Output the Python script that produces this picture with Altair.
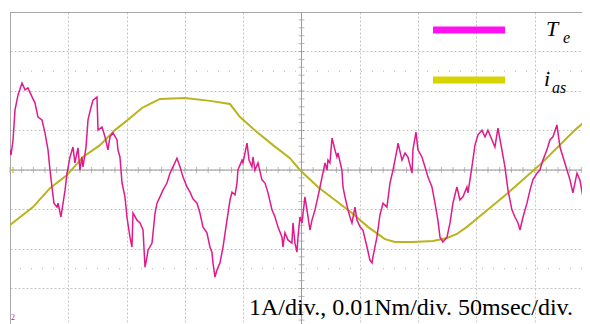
import altair as alt
import numpy as np
import pandas as pd

# ---- data (time in ms, amplitude in divisions) ----
te_t = [0, 0.9, 2.6, 4.3, 6.9, 10.3, 12.9, 15.4, 18.9, 21.4, 24.0, 27.4, 30.0, 32.6, 34.3, 36.0, 37.7, 40.3, 41.2, 43.7,
        45.5, 47.2, 48.9, 51.5, 54.0, 55.7, 58.3, 60.0, 61.7, 62.6, 65.2, 66.9, 69.5, 71.2, 74.6, 75.5, 78.9, 81.5, 84.0, 85.8,
        88.3, 91.8, 92.6, 94.3, 96.1, 98.6, 100.3, 102.9, 104.6, 105.5, 108.9, 111.5, 114.1, 115.8, 117.5, 118.4, 121.8, 124.4, 126.1, 128.6,
        131.2, 134.6, 137.2, 139.8, 143.2, 145.8, 148.4, 151.8, 154.4, 156.9, 160.4, 162.9, 165.5, 168.9, 171.5, 173.2, 174.1, 175.8, 177.5, 180.1,
        182.7, 186.1, 188.7, 190.4, 193.0, 194.7, 195.5, 199.0, 199.8, 203.3, 205.0, 207.5, 208.4, 210.1, 212.7, 216.1, 218.7, 221.3, 224.7, 227.3,
        229.8, 233.3, 234.1, 235.8, 238.4, 241.8, 242.7, 244.4, 246.1, 247.0, 248.7, 250.4, 253.0, 254.7, 257.3, 259.0, 261.6, 264.1, 265.9, 267.6,
        270.2, 271.9, 272.7, 274.4, 276.2, 278.7, 280.4, 281.3, 284.7, 285.6, 287.3, 289.9, 291.6, 293.3, 295.9, 297.6, 300.2, 302.7, 306.2, 308.7,
        310.5, 311.3, 314.7, 317.3, 319.9, 323.3, 325.9, 328.5, 331.9, 332.8, 336.2, 338.8, 341.3, 344.8, 345.6, 348.2, 349.9, 353.3, 355.9, 358.5,
        361.9, 364.5, 367.0, 368.8, 371.3, 374.8, 377.4, 379.9, 383.3, 385.9, 388.5, 391.9, 392.8, 396.2, 398.8, 401.4, 404.8, 407.4, 409.9, 413.4,
        415.9, 418.5, 421.9, 424.5, 427.1, 430.5, 433.1, 435.7, 437.4, 440.0, 443.4, 446.0, 448.5, 452.0, 454.5, 457.1, 460.5, 463.1, 465.7, 469.1,
        471.7, 474.3, 477.7, 480.3, 482.8, 486.3, 488.8, 491.4, 494.8, 495.7, 497.4]
te_v = [0.51, 0.38, 0.76, 1.52, 1.90, 2.20, 2.03, 2.08, 1.85, 1.70, 1.34, 1.27, 0.94, 0.51, 0.0, -0.43, -0.84, -0.94, -0.84, -1.19,
        -0.84, -0.51, -0.08, 0.33, 0.58, 0.18, 0.56, 0.0, 0.33, 0.08, 0.58, 1.27, 1.59, 1.77, 1.85, 1.01, 1.09, 0.84, 0.51, 0.84,
        0.94, 0.76, 0.51, 0.33, -0.33, -0.68, -1.19, -1.70, -1.95, -1.09, -1.27, -1.34, -1.52, -2.46, -2.20, -2.03, -1.85, -1.09, -0.84, -0.68,
        -0.51, -0.33, -0.08, 0.08, 0.30, 0.08, -0.18, -0.43, -0.56, -0.73, -0.84, -1.09, -1.44, -1.59, -1.95, -2.08, -2.35, -2.71, -2.53, -2.35,
        -1.95, -1.27, -0.76, -0.56, -0.63, -0.33, 0.0, 0.25, 0.18, 0.68, 0.25, 0.08, 0.33, 0.0, 0.18, -0.25, -0.33, -0.58, -1.01, -1.19,
        -1.44, -1.70, -1.95, -1.59, -1.77, -1.85, -1.34, -1.85, -2.08, -1.70, -1.19, -1.34, -0.68, -1.01, -1.52, -1.27, -1.01, -0.68, -0.43, -0.18,
        0.18, 0.0, 0.25, 0.18, 0.81, 0.51, 0.33, 0.43, 0.0, -0.43, -0.68, -1.01, -1.19, -1.34, -0.94, -1.27, -1.44, -1.52, -1.95, -2.28,
        -2.35, -2.20, -1.70, -1.14, -0.84, -0.94, -0.33, 0.0, 0.51, 0.68, 0.25, 0.43, 0.33, -0.08, 0.51, 0.96, 0.51, 0.33, 0.08, -0.18,
        -0.43, -0.84, -1.27, -1.70, -1.82, -1.70, -1.34, -0.84, -0.43, -0.76, -0.68, -0.43, -0.58, 0.08, 0.63, 0.89, 1.01, 0.84, 1.01, 0.76,
        0.58, 1.06, 0.51, 0.08, -0.51, -1.01, -1.19, -1.34, -1.52, -1.19, -0.84, -0.51, -0.25, -0.08, 0.0, 0.25, 0.51, 0.76, 0.84, 1.14,
        0.58, 0.33, 0.0, -0.25, -0.58, -0.08, -0.25, -0.68, -1.52, -2.03, -2.20]

ias_t = [0, 19.7, 34.3, 48.9, 62.6, 77.2, 90.0, 101.2, 113.2, 121.8, 128.6, 150.1, 171.5, 188.7, 197.3, 211.8, 225.6, 240.1,
         248.7, 264.1, 278.7, 293.3, 307.0, 321.6, 330.2, 345.6, 362.8, 374.8, 383.3, 391.9, 398.8, 427.1, 456.2, 484.5, 497.4]
ias_v = [-1.39, -0.94, -0.46, -0.13, 0.33, 0.63, 1.01, 1.27, 1.57, 1.70, 1.80, 1.82, 1.75, 1.67, 1.34, 0.96, 0.63, 0.30,
         0.0, -0.43, -0.76, -1.09, -1.44, -1.75, -1.82, -1.82, -1.80, -1.72, -1.62, -1.44, -1.27, -0.58, 0.18, 1.01, 1.34]

x_grid = [0, 50, 100, 150, 200, 250, 300, 350, 400, 450, 500]
y_grid = [-4, -3, -2, -1, 0, 1, 2, 3, 4]
cursor_levels = [2.5, -2.5]
note_text = "1A/div., 0.01Nm/div. 50msec/div."

W, H = 572, 312
XD = [0, 490.6]
YD = [-3.899, 4.0]
GRID = "#c4c4c4"
AXC = "#9a9a9a"
TE_COL = "#e01a8c"
IAS_COL = "#b9b41c"

xs = alt.Scale(domain=XD, nice=False, zero=False)
ys = alt.Scale(domain=YD, nice=False, zero=False)

te_df = pd.DataFrame({"t": te_t, "v": te_v})
ias_df = pd.DataFrame({"t": ias_t, "v": ias_v})

xaxis = alt.Axis(values=x_grid, grid=True, gridColor=GRID, gridDash=[2, 2], gridWidth=1,
                 labels=False, ticks=False, domain=False, title=None)
yaxis = alt.Axis(values=y_grid, grid=True, gridColor=GRID, gridDash=[2, 2], gridWidth=1,
                 labels=False, ticks=False, domain=False, title=None)

grid = alt.Chart(pd.DataFrame({"t": [0], "v": [0]})).mark_point(opacity=0).encode(
    x=alt.X("t:Q", scale=xs, axis=xaxis), y=alt.Y("v:Q", scale=ys, axis=yaxis))

cursors = alt.Chart(pd.DataFrame({"v": cursor_levels})).mark_rule(
    color="#b8b8b8", strokeDash=[1, 10], strokeWidth=1).encode(y=alt.Y("v:Q", scale=ys))

hcenter = alt.Chart(pd.DataFrame({"v": [0]})).mark_rule(color=AXC, strokeWidth=1).encode(
    y=alt.Y("v:Q", scale=ys))
vcenter = alt.Chart(pd.DataFrame({"t": [250]})).mark_rule(color=AXC, strokeWidth=1).encode(
    x=alt.X("t:Q", scale=xs))

hticks = alt.Chart(pd.DataFrame({"t": np.arange(0, 500, 10), "v": 0})).mark_tick(
    orient="vertical", color=AXC, size=6, thickness=1).encode(
    x=alt.X("t:Q", scale=xs), y=alt.Y("v:Q", scale=ys))
vticks = alt.Chart(pd.DataFrame({"v": np.arange(-3.8, 4.0, 0.2), "t": 250})).mark_tick(
    orient="horizontal", color=AXC, size=6, thickness=1).encode(
    x=alt.X("t:Q", scale=xs), y=alt.Y("v:Q", scale=ys))

border_top = alt.Chart().mark_rule(color="#a8a8a8", strokeWidth=1).encode(
    x=alt.value(0), x2=alt.value(W), y=alt.value(0.5))
border_left = alt.Chart().mark_rule(color="#a8a8a8", strokeWidth=1).encode(
    x=alt.value(0.5), y=alt.value(0), y2=alt.value(H))

ias_line = alt.Chart(ias_df).mark_line(color=IAS_COL, strokeWidth=2, clip=True).encode(
    x=alt.X("t:Q", scale=xs), y=alt.Y("v:Q", scale=ys))
te_line = alt.Chart(te_df).mark_line(color=TE_COL, strokeWidth=1.5, clip=True).encode(
    x=alt.X("t:Q", scale=xs), y=alt.Y("v:Q", scale=ys))

leg_te = alt.Chart().mark_rule(color="#ff10f0", strokeWidth=7).encode(
    x=alt.value(423), x2=alt.value(495), y=alt.value(18))
leg_ias = alt.Chart().mark_rule(color="#d8d400", strokeWidth=7).encode(
    x=alt.value(423), x2=alt.value(495), y=alt.value(68))

def txt(s, x, y, size, style="italic", color="black", align="left"):
    return alt.Chart().mark_text(text=s, font="Liberation Serif", fontSize=size, fontStyle=style,
                                  color=color, align=align, baseline="alphabetic").encode(
        x=alt.value(x), y=alt.value(y))

labels = [
    txt("T", 536, 24, 22),
    txt("e", 553, 31, 16),
    txt("i", 534, 74, 22),
    txt("as", 542, 81, 16),
    txt(note_text, 563, 303, 24, style="normal", align="right"),
    txt("1", 1, 161, 8, style="normal", color="#b0a020"),
    txt("2", 1, 308, 8, style="normal", color="#c02070"),
]

chart = alt.layer(grid, cursors, hcenter, vcenter, hticks, vticks, border_top, border_left,
                  ias_line, te_line, leg_te, leg_ias, *labels).properties(
    width=W, height=H, autosize=alt.AutoSizeParams(type="none"),
    padding={"left": 2, "top": 4, "right": 0, "bottom": 0},
).configure_view(stroke=None).configure(background="white")

chart.save("out.html", embed_options={"renderer": "svg", "actions": False})
